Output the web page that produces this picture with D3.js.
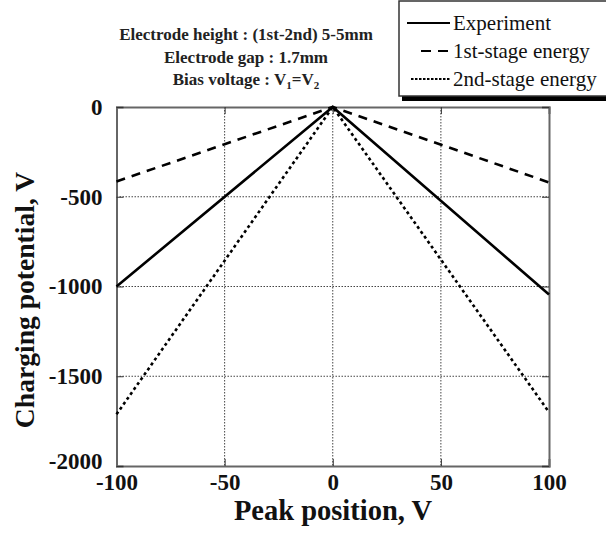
<!DOCTYPE html>
<html><head><meta charset="utf-8">
<script src="https://cdn.jsdelivr.net/npm/d3@7/dist/d3.min.js"></script>
<style>body{margin:0;background:#fff}svg{display:block}</style>
</head><body>
<script>
const peakPos = [-100, 0, 100];
const experiment = [-1000, 0, -1045];
const firstStage = [-415, 0, -420];
const secondStage = [-1712, 0, -1700];
const xTicks = [-100, -50, 0, 50, 100];
const yTicks = [0, -500, -1000, -1500, -2000];

const W = 606, H = 533;
const svg = d3.select("body").append("svg").attr("width", W).attr("height", H);
const L = 116.5, R = 549, T = 107, B = 466;
const x = d3.scaleLinear().domain([-100, 100]).range([L, R]);
const y = d3.scaleLinear().domain([-2000, 0]).range([B, T]);
const serif = "'Liberation Serif','Times New Roman',serif";
const fmt = d => String(d);

// grid
const g = svg.append("g");
g.selectAll(".gx").data(xTicks.slice(1, -1)).join("line")
  .attr("x1", d => x(d)).attr("x2", d => x(d)).attr("y1", T).attr("y2", B)
  .attr("stroke", "#444").attr("stroke-width", 1).attr("stroke-dasharray", "1.5,1.5");
g.selectAll(".gy").data(yTicks.slice(1, -1)).join("line")
  .attr("y1", d => y(d)).attr("y2", d => y(d)).attr("x1", L).attr("x2", R)
  .attr("stroke", "#444").attr("stroke-width", 1).attr("stroke-dasharray", "1.5,1.5");

// axes with inward ticks
const ax = svg.append("g").attr("font-family", serif);
const axB = ax.append("g").attr("transform", `translate(0,${B})`)
  .call(d3.axisBottom(x).tickValues(xTicks).tickSize(-7).tickPadding(8).tickFormat(fmt));
const axT = ax.append("g").attr("transform", `translate(0,${T})`)
  .call(d3.axisTop(x).tickValues(xTicks).tickSize(-7).tickFormat(""));
const axL = ax.append("g").attr("transform", `translate(${L},0)`)
  .call(d3.axisLeft(y).tickValues(yTicks).tickSize(-7).tickPadding(14).tickFormat(fmt));
const axR = ax.append("g").attr("transform", `translate(${R},0)`)
  .call(d3.axisRight(y).tickValues(yTicks).tickSize(-7).tickFormat(""));
[axB, axT, axL, axR].forEach(a => {
  a.select(".domain").attr("stroke", "#666").attr("stroke-width", 2);
  a.selectAll(".tick line").attr("stroke", "#333").attr("stroke-width", 1);
  a.selectAll("text").attr("font-size", 23).attr("font-weight", "bold").attr("fill", "#111").attr("font-family", serif);
});
axL.selectAll(".tick").filter(d => d === -2000).select("text").attr("dy", "0.1em");

// lines
const line = d3.line().x(d => x(d[0])).y(d => y(d[1]));
const series = [
  {vals: experiment, dash: null, w: 2.6},
  {vals: firstStage, dash: "9,7", w: 2.6},
  {vals: secondStage, dash: "3,3", w: 2.6}
];
series.forEach(s => {
  svg.append("path").datum(peakPos.map((p, i) => [p, s.vals[i]]))
    .attr("d", line).attr("fill", "none").attr("stroke", "#000")
    .attr("stroke-width", s.w).attr("stroke-dasharray", s.dash);
});

// axis titles
svg.append("text").attr("x", 333).attr("y", 520).attr("text-anchor", "middle")
  .attr("font-family", serif).attr("font-weight", "bold").attr("font-size", 28.5).attr("fill", "#111")
  .text("Peak position, V");
svg.append("text").attr("transform", `translate(34,${300}) rotate(-90)`).attr("text-anchor", "middle")
  .attr("font-family", serif).attr("font-weight", "bold").attr("font-size", 27.6).attr("fill", "#111")
  .text("Charging potential, V");

// annotation
const ann = svg.append("text").attr("text-anchor", "middle").attr("font-family", serif)
  .attr("font-weight", "bold").attr("font-size", 17).attr("fill", "#222");
ann.append("tspan").attr("x", 246).attr("y", 40).text("Electrode height : (1st-2nd) 5-5mm");
ann.append("tspan").attr("x", 246).attr("y", 63).text("Electrode gap : 1.7mm");
const t3 = ann.append("tspan").attr("x", 246).attr("y", 85);
t3.append("tspan").text("Bias voltage : V");
t3.append("tspan").attr("font-size", 11).attr("dy", 4).text("1");
t3.append("tspan").attr("dy", -4).text("=V");
t3.append("tspan").attr("font-size", 11).attr("dy", 4).text("2");

// legend
const lg = svg.append("g");
lg.append("rect").attr("x", 402).attr("y", 4).attr("width", 210).attr("height", 97).attr("fill", "#000");
lg.append("rect").attr("x", 399).attr("y", 1).attr("width", 210).attr("height", 95)
  .attr("fill", "#fff").attr("stroke", "#333").attr("stroke-width", 1.5);
const items = [
  {label: "Experiment", dash: null, y: 23, x1: 407, x2: 450},
  {label: "1st-stage energy", dash: "10,7", y: 51, x1: 421, x2: 448},
  {label: "2nd-stage energy", dash: "2.5,1.5", y: 79, x1: 411, x2: 450}
];
items.forEach(it => {
  lg.append("line").attr("x1", it.x1).attr("x2", it.x2).attr("y1", it.y).attr("y2", it.y)
    .attr("stroke", "#000").attr("stroke-width", 2.2).attr("stroke-dasharray", it.dash);
  lg.append("text").attr("x", 453).attr("y", it.y + 7).attr("font-family", serif)
    .attr("font-size", 21).attr("fill", "#111").text(it.label);
});
</script>
</body></html>
